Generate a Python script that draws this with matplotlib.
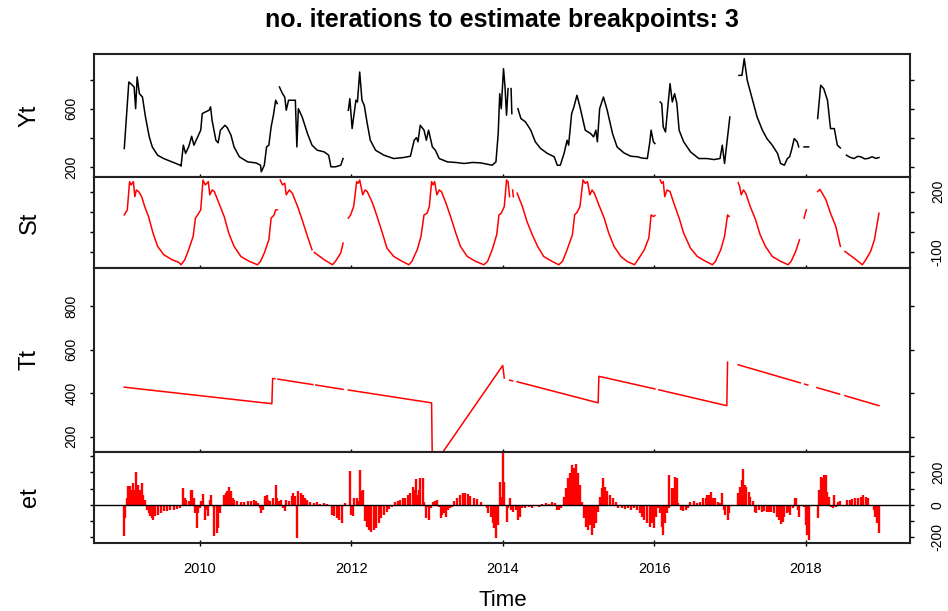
import numpy as np
import matplotlib
matplotlib.use("Agg")
import matplotlib.pyplot as plt

nan = np.nan

# observed series Yt (nan marks missing observations)
yt_year = [2009.00, 2009.06, 2009.09, 2009.13, 2009.15, 2009.17, 2009.20, 2009.24, 2009.28, 2009.33,
           2009.37, 2009.44, 2009.52, 2009.63, 2009.74, 2009.75, 2009.78, 2009.81, 2009.85, 2009.89,
           2009.92, 2009.96, 2010.01, 2010.03, 2010.07, 2010.12, 2010.14, 2010.16, 2010.21, 2010.24,
           2010.27, 2010.33, 2010.36, 2010.41, 2010.45, 2010.52, 2010.63, 2010.74, 2010.80, 2010.81,
           2010.85, 2010.88, 2010.91, 2010.94, 2010.97, 2011.00, 2011.02, nan,
           2011.05, 2011.09, 2011.12, 2011.14, 2011.17, 2011.21, 2011.26, 2011.28, 2011.30, 2011.35,
           2011.42, 2011.48, 2011.55, 2011.64, 2011.70, 2011.73, 2011.79, 2011.86, 2011.89, nan,
           2011.96, 2011.98, 2012.01, 2012.06, 2012.08, 2012.11, 2012.14, 2012.17, 2012.21, 2012.25,
           2012.32, 2012.43, 2012.56, 2012.69, 2012.78, 2012.83, 2012.86, 2012.88, 2012.91, 2012.96,
           2012.99, 2013.02, 2013.07, 2013.11, 2013.16, 2013.27, 2013.38, 2013.49, 2013.60, 2013.71,
           2013.86, 2013.91, 2013.94, 2013.96, 2013.98, 2014.01, 2014.03, 2014.05, 2014.07, nan,
           2014.11, 2014.12, nan,
           2014.20, 2014.24, 2014.30, 2014.37, 2014.43, 2014.50, 2014.59, 2014.68, 2014.72, 2014.76,
           2014.81, 2014.85, 2014.87, 2014.91, 2014.94, 2014.98, 2015.02, 2015.05, 2015.09, 2015.16,
           2015.20, 2015.23, 2015.25, 2015.28, 2015.33, 2015.38, 2015.45, 2015.51, 2015.60, 2015.69,
           2015.78, 2015.84, 2015.91, 2015.94, 2015.96, 2015.99, 2016.01, nan,
           2016.08, 2016.10, 2016.12, 2016.15, 2016.17, 2016.21, 2016.24, 2016.27, 2016.30, 2016.33,
           2016.39, 2016.48, 2016.59, 2016.70, 2016.79, 2016.87, 2016.90, 2016.93, 2016.97, 2017.00, nan,
           2017.12, 2017.16, 2017.19, 2017.23, 2017.30, 2017.36, 2017.43, 2017.49, 2017.56, 2017.63,
           2017.67, 2017.72, 2017.76, 2017.79, 2017.82, 2017.85, 2017.89, 2017.91, nan,
           2017.98, 2018.04, nan,
           2018.16, 2018.20, 2018.24, 2018.29, 2018.33, 2018.38, 2018.42, 2018.46, nan,
           2018.54, 2018.59, 2018.64, 2018.69, 2018.73, 2018.78, 2018.82, 2018.88, 2018.93, 2018.97]
yt_val = [326, 783, 770, 749, 600, 818, 703, 680, 543, 406,
          337, 280, 257, 234, 211, 205, 349, 292, 337, 410,
          349, 395, 452, 566, 577, 589, 612, 520, 383, 365,
          452, 486, 470, 417, 337, 269, 234, 227, 211, 166,
          211, 337, 349, 475, 555, 658, 635, nan,
          749, 703, 680, 589, 658, 658, 658, 337, 600, 543,
          429, 349, 314, 303, 280, 200, 200, 211, 257, nan,
          589, 669, 463, 658, 646, 852, 658, 623, 497, 383,
          314, 280, 257, 264, 273, 383, 401, 372, 486, 452,
          383, 452, 337, 314, 257, 234, 230, 223, 230, 227,
          211, 234, 429, 703, 600, 875, 749, 555, 738, nan,
          738, 566, nan,
          600, 532, 509, 452, 372, 326, 292, 269, 211, 211,
          292, 383, 349, 566, 612, 692, 612, 543, 452, 429,
          406, 452, 372, 600, 680, 589, 429, 337, 296, 273,
          269, 260, 257, 360, 452, 372, 360, nan,
          646, 635, 475, 440, 555, 772, 646, 703, 635, 452,
          372, 303, 257, 257, 250, 257, 349, 223, 406, 543, nan,
          829, 829, 944, 795, 658, 543, 452, 394, 349, 292,
          223, 211, 257, 269, 326, 394, 372, 337, nan,
          337, 337, nan,
          532, 761, 738, 658, 463, 463, 349, 330, nan,
          280, 265, 257, 272, 269, 255, 257, 269, 258, 264]

# seasonal component St
st_year = [2009.00, 2009.04, 2009.07, 2009.09, 2009.12, 2009.14, 2009.16, 2009.19, 2009.23, 2009.27,
           2009.32, 2009.38, 2009.44, 2009.52, 2009.63, 2009.72, 2009.75, 2009.80, 2009.85, 2009.91,
           2009.94, 2009.97, 2010.01, 2010.04, 2010.07, 2010.11, 2010.13, 2010.16, 2010.19, 2010.25,
           2010.32, 2010.38, 2010.45, 2010.54, 2010.65, 2010.76, 2010.80, 2010.85, 2010.91, 2010.94,
           2010.98, 2011.00, 2011.02, nan,
           2011.06, 2011.09, 2011.12, 2011.14, 2011.18, 2011.22, 2011.29, 2011.35, 2011.42, 2011.48, nan,
           2011.51, 2011.64, 2011.75, 2011.79, 2011.86, 2011.89, nan,
           2011.96, 2011.99, 2012.03, 2012.07, 2012.09, 2012.11, 2012.15, 2012.18, 2012.21, 2012.28,
           2012.34, 2012.41, 2012.47, 2012.56, 2012.67, 2012.76, 2012.80, 2012.87, 2012.92, 2012.96,
           2013.00, 2013.03, 2013.06, 2013.08, 2013.10, 2013.13, 2013.16, 2013.19, 2013.25, 2013.31,
           2013.38, 2013.44, 2013.53, 2013.64, 2013.75, 2013.80, 2013.86, 2013.92, 2013.95, 2013.98,
           2014.02, 2014.05, 2014.07, 2014.09, nan,
           2014.13, 2014.14, nan,
           2014.19, 2014.26, 2014.32, 2014.39, 2014.46, 2014.54, 2014.65, 2014.74, 2014.79, 2014.85,
           2014.92, 2014.95, 2014.98, 2015.02, 2015.06, 2015.09, 2015.12, 2015.15, 2015.18, 2015.21,
           2015.27, 2015.34, 2015.40, 2015.47, 2015.56, 2015.64, 2015.74, 2015.80, 2015.87, 2015.93,
           2015.96, 2015.99, 2016.01, nan,
           2016.08, 2016.10, 2016.12, 2016.14, 2016.17, 2016.21, 2016.26, 2016.33, 2016.39, 2016.48,
           2016.57, 2016.68, 2016.77, 2016.81, 2016.88, 2016.93, 2016.97, 2016.99, nan,
           2017.11, 2017.13, 2017.15, 2017.18, 2017.21, 2017.27, 2017.34, 2017.40, 2017.47, 2017.56,
           2017.67, 2017.77, 2017.81, 2017.87, 2017.92, nan,
           2017.98, 2018.01, nan,
           2018.16, 2018.19, 2018.22, 2018.27, 2018.33, 2018.40, 2018.46, nan,
           2018.52, 2018.64, 2018.75, 2018.79, 2018.86, 2018.91, 2018.97]
st_val = [85, 110, 249, 233, 249, 175, 208, 200, 175, 126,
          77, -5, -70, -111, -136, -149, -161, -136, -87, -21,
          69, 85, 110, 257, 233, 249, 184, 208, 200, 143,
          77, -5, -70, -120, -144, -161, -144, -103, -38, 69,
          85, 110, 110, nan,
          257, 233, 241, 184, 208, 192, 126, 61, -21, -87, nan,
          -100, -136, -161, -144, -103, -54, nan,
          69, 85, 126, 249, 241, 257, 184, 208, 200, 143,
          77, -5, -79, -120, -144, -161, -144, -87, -21, 85,
          93, 126, 249, 233, 249, 184, 208, 200, 143, 77,
          -5, -70, -120, -144, -161, -144, -87, -13, 85, 93,
          126, 257, 249, 175, nan,
          208, 175, nan,
          192, 126, 52, -13, -70, -120, -144, -161, -144, -87,
          -13, 85, 97, 126, 257, 241, 249, 184, 208, 192,
          134, 69, -5, -70, -120, -144, -161, -128, -87, -29,
          85, 77, 82, nan,
          257, 241, 249, 175, 208, 200, 143, 69, -5, -79,
          -120, -144, -161, -144, -87, -21, 85, 77, nan,
          244, 225, 184, 208, 192, 126, 61, -13, -70, -120,
          -144, -161, -144, -95, -38, nan,
          69, 110, nan,
          200, 211, 192, 159, 93, 28, -70, nan,
          -95, -128, -161, -140, -95, -38, 93]

# trend component Tt, piecewise linear between breaks
tt_year = [2009.00, 2010.95, 2010.96, 2010.99, nan,
           2011.03, 2011.49, nan,
           2011.53, 2011.89, nan,
           2011.96, 2013.06, 2013.07, 2014.00, 2014.02, nan,
           2014.09, 2014.13, nan,
           2014.19, 2015.26, 2015.27, 2016.01, nan,
           2016.06, 2016.96, 2016.97, nan,
           2017.11, 2017.93, nan,
           2017.99, 2018.03, nan,
           2018.15, 2018.45, nan,
           2018.52, 2018.97]
tt_val = [428, 352, 468, 467, nan,
          465, 440, nan,
          438, 418, nan,
          415, 356, 60, 528, 470, nan,
          460, 457, nan,
          453, 356, 478, 420, nan,
          416, 343, 543, nan,
          531, 448, nan,
          442, 438, nan,
          426, 396, nan,
          389, 343]

# remainder et
et_year = [2009.00, 2009.01, 2009.03, 2009.05, 2009.08, 2009.09, 2009.11, 2009.14, 2009.16, 2009.18,
           2009.21, 2009.23, 2009.25, 2009.27, 2009.30, 2009.32, 2009.34, 2009.36, 2009.38, 2009.41,
           2009.44, 2009.48, 2009.52, 2009.57, 2009.61, 2009.66, 2009.70, 2009.74, 2009.76, 2009.78,
           2009.80, 2009.82, 2009.85, 2009.88, 2009.90, 2009.92, 2009.94, 2009.96, 2009.97, 2010.00,
           2010.02, 2010.04, 2010.07, 2010.09, 2010.11, 2010.13, 2010.15, 2010.18, 2010.19, 2010.22,
           2010.24, 2010.26, 2010.30, 2010.32, 2010.34, 2010.36, 2010.38, 2010.41, 2010.43, 2010.45,
           2010.49, 2010.54, 2010.58, 2010.63, 2010.67, 2010.71, 2010.74, 2010.77, 2010.79, 2010.81,
           2010.83, 2010.86, 2010.88, 2010.90, 2010.93, 2010.97, 2011.00, 2011.02, 2011.05, 2011.07,
           2011.10, 2011.12, 2011.14, 2011.18, 2011.21, 2011.23, 2011.25, 2011.28, 2011.30, 2011.33,
           2011.36, 2011.39, 2011.42, 2011.46, 2011.51, 2011.55, 2011.59, 2011.64, 2011.68, 2011.72,
           2011.74, 2011.77, 2011.81, 2011.84, 2011.87, 2011.89, 2011.91, 2011.96, 2011.98, 2012.00,
           2012.02, 2012.04, 2012.07, 2012.09, 2012.11, 2012.14, 2012.16, 2012.18, 2012.20, 2012.23,
           2012.26, 2012.30, 2012.33, 2012.36, 2012.39, 2012.43, 2012.47, 2012.50, 2012.54, 2012.57,
           2012.61, 2012.64, 2012.68, 2012.71, 2012.75, 2012.78, 2012.81, 2012.83, 2012.85, 2012.87,
           2012.89, 2012.91, 2012.94, 2012.96, 2012.98, 2013.00, 2013.03, 2013.05, 2013.08, 2013.10,
           2013.13, 2013.16, 2013.18, 2013.20, 2013.22, 2013.25, 2013.28, 2013.30, 2013.33, 2013.36,
           2013.40, 2013.43, 2013.47, 2013.50, 2013.54, 2013.57, 2013.62, 2013.66, 2013.71, 2013.75,
           2013.79, 2013.81, 2013.84, 2013.87, 2013.89, 2013.91, 2013.94, 2013.96, 2013.98, 2014.00,
           2014.02, 2014.05, 2014.07, 2014.09, 2014.11, 2014.14, 2014.17, 2014.20, 2014.23, 2014.26,
           2014.30, 2014.35, 2014.39, 2014.43, 2014.48, 2014.52, 2014.57, 2014.61, 2014.65, 2014.69,
           2014.71, 2014.74, 2014.77, 2014.81, 2014.83, 2014.86, 2014.89, 2014.91, 2014.94, 2014.97,
           2014.99, 2015.02, 2015.05, 2015.07, 2015.10, 2015.13, 2015.15, 2015.18, 2015.20, 2015.23,
           2015.26, 2015.28, 2015.31, 2015.33, 2015.35, 2015.38, 2015.42, 2015.45, 2015.49, 2015.52,
           2015.57, 2015.61, 2015.65, 2015.70, 2015.74, 2015.78, 2015.81, 2015.84, 2015.87, 2015.91,
           2015.94, 2015.97, 2016.00, 2016.02, 2016.05, 2016.08, 2016.10, 2016.12, 2016.14, 2016.17,
           2016.19, 2016.20, 2016.23, 2016.25, 2016.27, 2016.30, 2016.32, 2016.35, 2016.38, 2016.42,
           2016.45, 2016.48, 2016.53, 2016.57, 2016.61, 2016.65, 2016.68, 2016.70, 2016.73, 2016.75,
           2016.78, 2016.81, 2016.84, 2016.87, 2016.90, 2016.92, 2016.94, 2016.97, 2016.99, 2017.11,
           2017.13, 2017.16, 2017.18, 2017.20, 2017.22, 2017.25, 2017.27, 2017.30, 2017.33, 2017.35,
           2017.38, 2017.42, 2017.45, 2017.49, 2017.52, 2017.55, 2017.58, 2017.62, 2017.65, 2017.67,
           2017.70, 2017.72, 2017.75, 2017.78, 2017.80, 2017.83, 2017.86, 2017.88, 2017.90, 2017.92,
           2017.98, 2018.00, 2018.02, 2018.04, 2018.16, 2018.18, 2018.20, 2018.23, 2018.25, 2018.27,
           2018.29, 2018.31, 2018.33, 2018.36, 2018.38, 2018.40, 2018.43, 2018.45, 2018.55, 2018.59,
           2018.62, 2018.66, 2018.69, 2018.73, 2018.76, 2018.80, 2018.83, 2018.87, 2018.90, 2018.92,
           2018.95, 2018.97]
et_val = [-193, -80, 43, 115, 115, 94, 135, 94, 203, 125,
          94, 135, 64, 33, -29, -49, -70, -80, -90, -70,
          -59, -49, -39, -35, -29, -29, -25, -18, -8, 105,
          43, 33, 23, 94, 94, 43, -49, -141, -49, -18,
          23, 68, -90, -29, -70, 33, 59, -18, -193, -172,
          -141, -49, -8, 64, 74, 84, 109, 84, 43, 33,
          23, 18, 18, 23, 23, 33, 23, 12, -18, -49,
          -29, 53, 64, 33, 23, 43, 125, 43, 23, 33,
          -18, -39, 33, 23, 53, 74, 53, -203, 84, 74,
          64, 43, 33, 16, 12, 16, 8, 12, 6, 2,
          -59, -70, -80, -90, -111, -8, 12, 2, 211, -59,
          -70, 43, 43, 23, 217, 84, 94, -100, -133, -154,
          -164, -154, -144, -113, -82, -62, -41, -25, -10, 16,
          25, 31, 41, 45, 62, 72, 113, 92, 160, 62,
          92, 168, 164, 20, -82, -10, -92, -16, 20, 25,
          31, -10, -82, -62, -51, -72, -31, -20, -10, 25,
          45, 62, 72, 76, 66, 57, 45, 37, 20, -4,
          -20, -51, -72, -113, -144, -205, -123, 144, 51, 318,
          144, -103, -20, 41, -31, -41, -31, -92, -72, -20,
          -16, -10, -20, -4, -10, 4, 10, 4, 16, 10,
          -31, -31, -16, 51, 103, 164, 195, 246, 226, 250,
          195, 123, 20, -82, -133, -154, -123, -185, -144, -113,
          -41, 51, 103, 168, 113, 86, 62, 41, 20, -16,
          -20, -25, -20, -31, -16, -31, -51, -72, -92, -113,
          -133, -113, -144, -72, -16, -51, -133, -185, -113, -51,
          -20, 185, 103, 103, 174, 168, 10, -31, -37, -31,
          -16, 20, 25, 10, 20, 41, 45, 62, 62, 78,
          41, 41, 16, 10, 72, -31, -62, -92, -51, 72,
          113, 154, 221, 123, 113, 82, 51, 25, -41, -51,
          -31, -45, -37, -41, -45, -41, -51, -72, -92, -119,
          -107, -72, -51, -41, -62, -20, 45, 41, -31, -72,
          -10, -123, -185, -215, -82, 92, 174, 164, 182, 185,
          82, 51, -10, -20, 62, -10, 20, 25, 31, 31,
          37, 41, 41, 51, 62, 51, 45, -4, -31, -72,
          -113, -174]

years = [2010, 2012, 2014, 2016, 2018]

fig = plt.figure(figsize=(9.48, 6.11), dpi=100)
plt.rcParams['font.family'] = ['Liberation Sans', 'DejaVu Sans']

left, width = 94 / 948, 816 / 948
edges = [54, 177, 268, 452, 543]
axes = []
for i in range(4):
    top, bot = edges[i], edges[i + 1]
    ax = fig.add_axes([left, 1 - bot / 611, width, (bot - top) / 611])
    axes.append(ax)
ax1, ax2, ax3, ax4 = axes

ax1.plot(yt_year, yt_val, color='black', lw=1.1)
ax1.set_ylim(130, 976)
ax1.set_yticks([200, 400, 600, 800], ['200', '', '600', ''])

ax2.plot(st_year, st_val, color='red', lw=1.1)
ax2.set_ylim(-177, 272)
ax2.set_yticks([-100, 0, 100, 200], ['-100', '', '', '200'])

ax3.plot(tt_year, tt_val, color='red', lw=1.1)
ax3.set_ylim(130, 976)
ax3.set_yticks([200, 400, 600, 800], ['200', '400', '600', '800'])

ax4.vlines(et_year, 0, et_val, color='red', lw=1.7)
ax4.axhline(0, color='black', lw=1.0)
ax4.set_ylim(-234, 326)
ax4.set_yticks([-200, -100, 0, 100, 200, 300], ['-200', '', '0', '', '200', ''])

for i, ax in enumerate(axes):
    ax.set_xlim(2008.6, 2019.38)
    ax.set_xticks(years)
    for s in ax.spines.values():
        s.set_linewidth(1.5)
        s.set_color('#222222')
    ax.tick_params(axis='x', direction='inout', length=4, width=1, bottom=True, top=False,
                   labelbottom=(i == 3), labelsize=10.5, pad=12)
    lab_left = (i % 2 == 0)
    ax.tick_params(axis='y', direction='out', length=3, width=1, left=True, right=True,
                   labelleft=lab_left, labelright=not lab_left, labelsize=10,
                   labelrotation=90, pad=8 if lab_left else 12)
    for t in ax.get_yticklabels():
        t.set_va('center')

names = ['Yt', 'St', 'Tt', 'et']
for i, name in enumerate(names):
    yc = 1 - (edges[i] + edges[i + 1]) / 2 / 611
    fig.text(30 / 948, yc, name, rotation=90, fontsize=17, ha='center', va='center')

fig.text(502 / 948, 1 - 20 / 611, 'no. iterations to estimate breakpoints: 3',
         fontsize=18, fontweight='bold', ha='center', va='center')
fig.text(503 / 948, 1 - 601 / 611, 'Time', fontsize=16, ha='center', va='center')

fig.savefig('out.png', dpi=100)
